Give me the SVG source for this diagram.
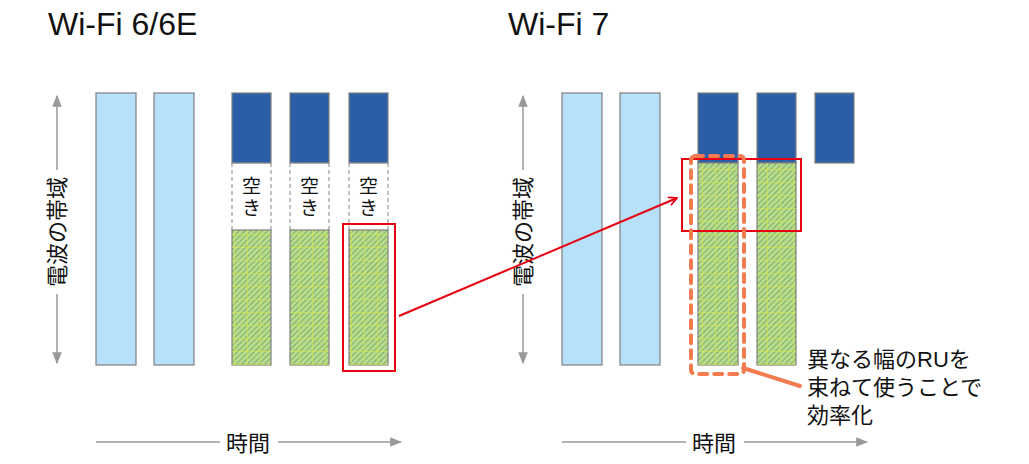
<svg xmlns="http://www.w3.org/2000/svg" width="1029" height="464" viewBox="0 0 1029 464">
<style>
.t{font-family:"Liberation Sans","Noto Sans CJK JP",sans-serif;fill:#111}
.title{font-size:32px}
.lbl{font-size:22px}
.sm{font-size:19px}
.lb{fill:#b7e0fb;stroke:#7f7f7f;stroke-width:1.2}
.db{fill:#2a5ea6;stroke:#7f7f7f;stroke-width:1.2}
.gr{fill:url(#hatch);stroke:#7f7f7f;stroke-width:1.2}
.grid{fill:url(#grid)}
.ax{stroke:#999;stroke-width:1.5;fill:none}
.dash{stroke:#999;stroke-width:1.2;stroke-dasharray:4 3;fill:none}
.red{stroke:#e60012;stroke-width:2;fill:none}
.or{stroke:#f27c50;stroke-width:4;fill:none;stroke-linecap:round}
</style>
<defs>
<pattern id="hatch" width="4" height="4" patternUnits="userSpaceOnUse" patternTransform="rotate(45)">
<rect width="4" height="4" fill="#bcd98e"/>
<line x1="0" y1="0" x2="0" y2="4" stroke="#3f9e55" stroke-width="1.2"/>
</pattern>
<pattern id="grid" width="13" height="13" patternUnits="userSpaceOnUse">
<path d="M0 0.5H13M0.5 0V13" stroke="#d4e64a" stroke-width="1" fill="none" opacity="0.6"/>
</pattern>
<marker id="ah" viewBox="0 0 10 10" refX="9" refY="5" markerWidth="8" markerHeight="8" orient="auto-start-reverse">
<path d="M0 1L10 5L0 9z" fill="#999"/>
</marker>
<marker id="rah" viewBox="0 0 12 12" refX="11" refY="6" markerWidth="10" markerHeight="10" markerUnits="userSpaceOnUse" orient="auto">
<path d="M1 1L11 6L1 11" fill="none" stroke="#e60012" stroke-width="2"/>
</marker>
</defs>

<g id="titles">
<text class="t title" x="48" y="35">Wi-Fi 6/6E</text>
<text class="t title" x="508" y="35">Wi-Fi 7</text>
</g>

<g id="axes-left">
<line class="ax" x1="57" y1="170" x2="57" y2="96" marker-end="url(#ah)"/>
<line class="ax" x1="57" y1="294" x2="57" y2="363" marker-end="url(#ah)"/>
<text class="t lbl" transform="translate(65 232) rotate(-90)" text-anchor="middle">電波の帯域</text>
<line class="ax" x1="96" y1="442" x2="220" y2="442"/>
<line class="ax" x1="278" y1="442" x2="401" y2="442" marker-end="url(#ah)"/>
<text class="t lbl" x="248" y="451" text-anchor="middle">時間</text>
</g>

<g id="axes-right">
<line class="ax" x1="523" y1="170" x2="523" y2="96" marker-end="url(#ah)"/>
<line class="ax" x1="523" y1="294" x2="523" y2="363" marker-end="url(#ah)"/>
<text class="t lbl" transform="translate(531 232) rotate(-90)" text-anchor="middle">電波の帯域</text>
<line class="ax" x1="562" y1="442" x2="686" y2="442"/>
<line class="ax" x1="744" y1="442" x2="867" y2="442" marker-end="url(#ah)"/>
<text class="t lbl" x="714" y="451" text-anchor="middle">時間</text>
</g>

<g id="left-bars">
<rect class="lb" x="96" y="93" width="40" height="272"/>
<rect class="lb" x="154" y="93" width="40" height="272"/>
<g id="left-col3">
<rect class="db" x="232" y="93" width="39" height="70"/>
<path class="dash" d="M232 163H271M232 163V230M271 163V230"/>
<text class="t sm" x="251.5" y="193" text-anchor="middle">空</text>
<text class="t sm" x="251.5" y="215" text-anchor="middle">き</text>
<rect class="gr" x="232" y="230" width="39" height="135"/>
<rect class="grid" x="232" y="230" width="39" height="135"/>
</g>
<g id="left-col4">
<rect class="db" x="290" y="93" width="39" height="70"/>
<path class="dash" d="M290 163H329M290 163V230M329 163V230"/>
<text class="t sm" x="309.5" y="193" text-anchor="middle">空</text>
<text class="t sm" x="309.5" y="215" text-anchor="middle">き</text>
<rect class="gr" x="290" y="230" width="39" height="135"/>
<rect class="grid" x="290" y="230" width="39" height="135"/>
</g>
<g id="left-col5">
<rect class="db" x="349" y="93" width="39" height="70"/>
<path class="dash" d="M349 163H388M349 163V230M388 163V230"/>
<text class="t sm" x="368.5" y="193" text-anchor="middle">空</text>
<text class="t sm" x="368.5" y="215" text-anchor="middle">き</text>
<rect class="gr" x="349" y="230" width="39" height="135"/>
<rect class="grid" x="349" y="230" width="39" height="135"/>
</g>
<rect id="left-highlight" class="red" x="343" y="224" width="52" height="147"/>
</g>

<g id="right-bars">
<rect class="lb" x="562" y="93" width="40" height="272"/>
<rect class="lb" x="620" y="93" width="40" height="272"/>
<g id="right-col3">
<rect class="db" x="698" y="93" width="40" height="70"/>
<rect class="gr" x="698" y="163" width="40" height="202"/>
<rect class="grid" x="698" y="163" width="40" height="202"/>
</g>
<g id="right-col4">
<rect class="db" x="757" y="93" width="39" height="70"/>
<rect class="gr" x="757" y="163" width="39" height="202"/>
<rect class="grid" x="757" y="163" width="39" height="202"/>
</g>
<g id="right-col5">
<rect class="db" x="815" y="93" width="39" height="70"/>
</g>
<rect id="right-highlight" class="red" x="682" y="159" width="119" height="72"/>
<rect id="orange-group" class="or" x="691" y="156" width="53" height="218" rx="4" stroke-dasharray="8 7"/>
</g>

<g id="connectors">
<line class="red" x1="399" y1="316" x2="677" y2="198" marker-end="url(#rah)"/>
<line class="or" x1="743" y1="368" x2="800" y2="386"/>
</g>

<g id="callout">
<text class="t lbl" x="807" y="367">異なる幅のRUを</text>
<text class="t lbl" x="807" y="395">束ねて使うことで</text>
<text class="t lbl" x="807" y="423">効率化</text>
</g>
</svg>
